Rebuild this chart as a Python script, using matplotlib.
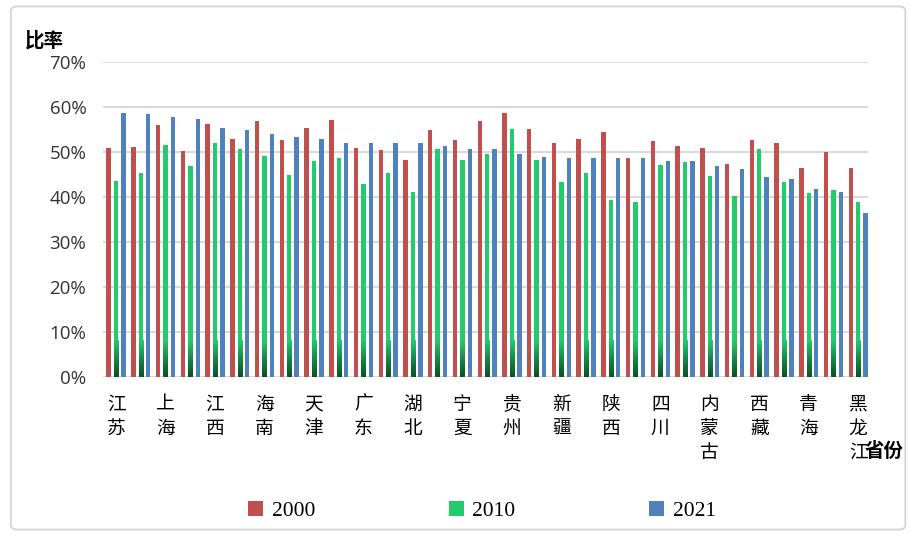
import numpy as np
import matplotlib.pyplot as plt
from matplotlib.colors import LinearSegmentedColormap
from matplotlib.patches import FancyBboxPatch

# Provinces (only every other one is labelled in the original chart)
provinces = ["江苏", "", "上海", "", "江西", "", "海南", "", "天津", "", "广东", "",
             "湖北", "", "宁夏", "", "贵州", "", "新疆", "", "陕西", "", "四川", "",
             "内蒙古", "", "西藏", "", "青海", "", "黑龙江"]
years = ["2000", "2010", "2021"]

v2000 = [51.0, 51.2, 56.0, 50.3, 56.3, 53.0, 56.9, 52.7, 55.4, 57.2, 51.0, 50.4,
         48.3, 54.8, 52.7, 56.9, 58.7, 55.1, 51.9, 53.0, 54.5, 48.6, 52.4, 51.3,
         51.0, 47.4, 52.7, 51.9, 46.5, 50.1, 46.5]
v2010 = [43.6, 45.3, 51.6, 47.0, 52.1, 50.6, 49.2, 45.0, 48.0, 48.6, 42.9, 45.3,
         41.1, 50.6, 48.3, 49.5, 55.1, 48.3, 43.3, 45.3, 39.4, 38.8, 47.1, 47.7,
         44.7, 40.3, 50.7, 43.3, 40.9, 41.5, 38.8]
v2021 = [58.6, 58.4, 57.7, 57.4, 55.4, 55.0, 53.9, 53.3, 53.0, 52.1, 52.1, 52.1,
         51.9, 51.3, 50.7, 50.7, 49.5, 48.9, 48.6, 48.6, 48.6, 48.6, 48.0, 48.0,
         46.8, 46.2, 44.4, 44.1, 41.8, 41.2, 36.4]

colors = ["#C0504D", "#22CC6C", "#4F81BD"]
cjk = ["Noto Sans CJK SC", "DejaVu Sans"]

fig = plt.figure(figsize=(9.09, 5.36), dpi=100)
ax = fig.add_axes([0.1133, 0.2966, 0.8417, 0.5877])

x = np.arange(len(provinces))
width = 0.18
step = 0.30
series = [np.array(v2000) / 100, np.array(v2010) / 100, np.array(v2021) / 100]
bar_sets = []
for i, (vals, c, lab) in enumerate(zip(series, colors, years)):
    bars = ax.bar(x + (i - 1) * step, vals, width, color=c, label=lab, zorder=3)
    bar_sets.append(bars)

# dark gradient at the foot of the green bars
grad = LinearSegmentedColormap.from_list("g", ["#0A5226", "#17894A", "#22CC6C"])
for b in bar_sets[1]:
    x0 = b.get_x()
    h = min(b.get_height(), 0.08)
    ax.imshow(np.linspace(0, 1, 64).reshape(-1, 1), cmap=grad, aspect="auto",
              origin="lower", extent=(x0, x0 + b.get_width(), 0, h), zorder=4,
              interpolation="bilinear")

ax.set_xlim(-0.53, 30.4)
ax.set_ylim(0, 0.70)
ax.set_yticks(np.arange(0, 0.71, 0.1))
ax.set_yticklabels([f"{int(round(t * 100))}%" for t in np.arange(0, 0.71, 0.1)],
                   fontsize=13.5, family="Open Sans", color="#333333")
ax.yaxis.grid(True, color="#D9D9D9", linewidth=1.5, zorder=0)
ax.set_axisbelow(True)
ax.tick_params(axis="y", length=0, pad=12)

lab_idx = [i for i, p in enumerate(provinces) if p]
ax.set_xticks(lab_idx)
ax.set_xticklabels(["\n".join(provinces[i]) for i in lab_idx], family=cjk,
                   fontsize=13.5, fontweight="light", linespacing=1.2, va="top")
ax.tick_params(axis="x", length=0, pad=12)
for s in ax.spines.values():
    s.set_visible(False)

fig.text(0.027, 0.925, "比率", family=cjk, fontsize=14, fontweight="bold",
         va="center", ha="left")
fig.text(0.951, 0.157, "省份", family=cjk, fontsize=14, fontweight="bold",
         va="center", ha="left")

leg = fig.legend(loc="center", bbox_to_anchor=(0.53, 0.046), ncol=3, frameon=False,
                 prop={"family": "Liberation Serif", "size": 15.5},
                 handlelength=0.7, handleheight=0.7, handletextpad=0.4,
                 columnspacing=6.2)

fig.patches.append(FancyBboxPatch((0.012, 0.012), 0.984, 0.976,
                                  boxstyle="round,pad=0,rounding_size=0.008",
                                  transform=fig.transFigure, fill=False,
                                  edgecolor="#D0D0D0", linewidth=1.2))

fig.savefig("out.png", dpi=100)
